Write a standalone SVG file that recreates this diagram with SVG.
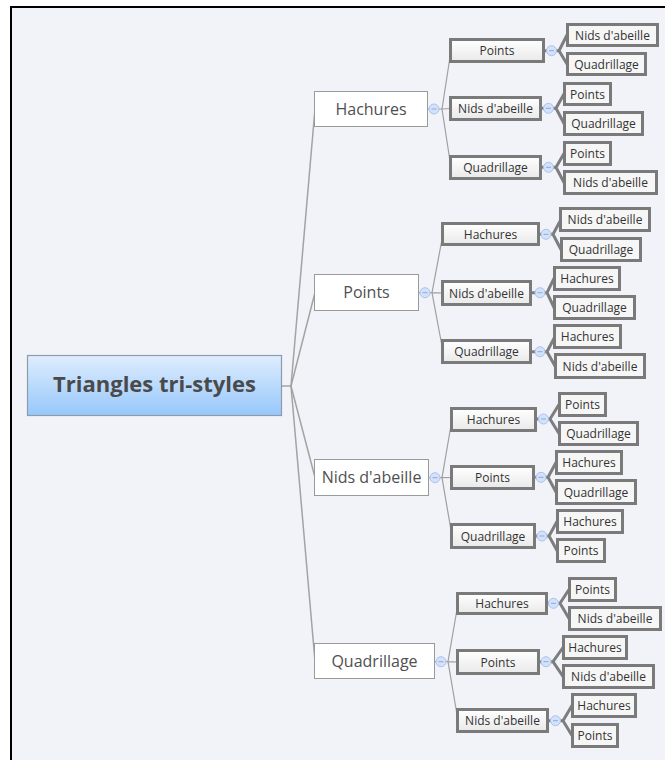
<svg xmlns="http://www.w3.org/2000/svg" width="665" height="760" viewBox="0 0 665 760">
<defs>
<linearGradient id="gRoot" x1="0" y1="0" x2="0" y2="1"><stop offset="0" stop-color="#deedfe"/><stop offset="1" stop-color="#97c7fb"/></linearGradient>
<linearGradient id="gBox" x1="0" y1="0" x2="0" y2="1"><stop offset="0" stop-color="#ffffff"/><stop offset="1" stop-color="#e9e9e9"/></linearGradient>
<g id="tog"><circle r="5" fill="#d3e2fa" stroke="#a9c3ee" stroke-width="1"/><line x1="-2.5" y1="0" x2="2.5" y2="0" stroke="#8fa9d8" stroke-width="1"/></g>
</defs>
<style>
.t{font-family:"Open Sans","Noto Sans","DejaVu Sans",sans-serif;text-anchor:middle}
.root rect{fill:url(#gRoot);stroke:#8d9cab;stroke-width:1.2}
.root text{font-size:22px;font-weight:bold;fill:#4a4a4a}
.l1 rect{fill:#ffffff;stroke:#9a9a9a;stroke-width:1}
.l1 text{font-size:16px;fill:#505050}
.l2 rect,.l3 rect{fill:url(#gBox);stroke:#7a7a7a;stroke-width:3}
.l3 rect{fill:#f6f6f6}
.l2 text,.l3 text{font-size:12px;fill:#333333}
.c1{stroke:#a3a3a3;stroke-width:1.5;fill:none}
.c2{stroke:#a0a0a0;stroke-width:1.2;fill:none}
.c3{stroke:#7d7d7d;stroke-width:3;fill:none;stroke-linecap:round}
</style>
<rect x="0" y="0" width="665" height="760" fill="#ffffff"/>
<rect x="10" y="6" width="700" height="800" fill="#000000"/>
<rect x="12" y="8" width="700" height="800" fill="#f2f3f9"/>

<g id="connectors">
<!-- root to L1 -->
<line class="c1" x1="282" y1="386" x2="291" y2="386" stroke-width="2.5"/>
<line class="c1" x1="291" y1="386" x2="315" y2="109"/>
<line class="c1" x1="291" y1="386" x2="315" y2="292.5"/>
<line class="c1" x1="291" y1="386" x2="315" y2="477.5"/>
<line class="c1" x1="291" y1="386" x2="315" y2="661"/>
<!-- L1 to L2 -->
<path class="c2" d="M428 109H442M442 109L451 50.5M442 109L451 108.5M442 109L451 167.5"/>
<path class="c2" d="M419 292.7H432M432 292.7L443 234M432 292.7L443 293M432 292.7L443 351.5"/>
<path class="c2" d="M429 477.7H442M442 477.7L452 419.5M442 477.7L452 477.5M442 477.7L452 536"/>
<path class="c2" d="M435 661.7H448M448 661.7L458 603.5M448 661.7L458 662M448 661.7L458 720.5"/>
<!-- L2 to L3 -->
<path class="c3" d="M545 50.7H559M559 50.7L567 35M559 50.7L567 64"/>
<path class="c3" d="M542 108.3H556M556 108.3L564 94M556 108.3L564 123.5"/>
<path class="c3" d="M542 167.3H556M556 167.3L564 153.5M556 167.3L564 182.5"/>
<path class="c3" d="M540 234.3H553M553 234.3L561 219.5M553 234.3L561 249.5"/>
<path class="c3" d="M532 292.7H547M547 292.7L554 278.5M547 292.7L554 307.5"/>
<path class="c3" d="M532 351.7H547M547 351.7L555 336.5M547 351.7L555 366"/>
<path class="c3" d="M537 419H550M550 419L559 404.5M550 419L559 433.5"/>
<path class="c3" d="M535 477.3H548M548 477.3L556 462.5M548 477.3L556 492"/>
<path class="c3" d="M536 536H549M549 536L557 521.5M549 536L557 550.5"/>
<path class="c3" d="M548 603.3H560M560 603.3L569 589.5M560 603.3L569 618.5"/>
<path class="c3" d="M540 661.7H553M553 661.7L563 647.5M553 661.7L563 676.5"/>
<path class="c3" d="M549 720.7H563M563 720.7L572 705.5M563 720.7L572 735.5"/>
<!-- toggles -->
<use href="#tog" x="434" y="109"/>
<use href="#tog" x="425" y="292.7"/>
<use href="#tog" x="435" y="477.7"/>
<use href="#tog" x="441" y="661.7"/>
<use href="#tog" x="551.5" y="50.7"/>
<use href="#tog" x="548.5" y="108.3"/>
<use href="#tog" x="548.5" y="167.3"/>
<use href="#tog" x="546" y="234.3"/>
<use href="#tog" x="540" y="292.7"/>
<use href="#tog" x="540" y="351.7"/>
<use href="#tog" x="543.5" y="419"/>
<use href="#tog" x="541" y="477.3"/>
<use href="#tog" x="542" y="536"/>
<use href="#tog" x="553.5" y="603.3"/>
<use href="#tog" x="546" y="661.7"/>
<use href="#tog" x="555.5" y="720.7"/>
</g>

<g id="root" class="root"><rect x="27.5" y="355.5" width="254" height="60"/><text class="t" x="154.5" y="392">Triangles tri-styles</text></g>

<g id="n-hachures" class="l1"><rect x="314.5" y="91.5" width="113" height="35"/><text class="t" x="371" y="114.5">Hachures</text></g>
<g id="n-points" class="l1"><rect x="314.5" y="274.5" width="104" height="36"/><text class="t" x="366.5" y="298">Points</text></g>
<g id="n-nids" class="l1"><rect x="314.5" y="459.5" width="114" height="36"/><text class="t" x="371.5" y="483">Nids d'abeille</text></g>
<g id="n-quadrillage" class="l1"><rect x="314.5" y="643.5" width="120" height="35"/><text class="t" x="374.5" y="666.5">Quadrillage</text></g>

<g id="n-h-points" class="l2"><rect x="450.5" y="39.5" width="93" height="22"/><text class="t" x="497" y="55">Points</text></g>
<g id="n-h-nids" class="l2"><rect x="450.5" y="97.5" width="90" height="22"/><text class="t" x="495.5" y="113">Nids d'abeille</text></g>
<g id="n-h-quad" class="l2"><rect x="450.5" y="156.5" width="90" height="22"/><text class="t" x="495.5" y="172">Quadrillage</text></g>

<g id="n-p-hach" class="l2"><rect x="442.5" y="223.5" width="96" height="21"/><text class="t" x="490.5" y="238.5">Hachures</text></g>
<g id="n-p-nids" class="l2"><rect x="442.5" y="281.5" width="88" height="23"/><text class="t" x="486.5" y="297.5">Nids d'abeille</text></g>
<g id="n-p-quad" class="l2"><rect x="442.5" y="340.5" width="88" height="22"/><text class="t" x="486.5" y="356">Quadrillage</text></g>

<g id="n-n-hach" class="l2"><rect x="451.5" y="408.5" width="84" height="22"/><text class="t" x="493.5" y="424">Hachures</text></g>
<g id="n-n-points" class="l2"><rect x="451.5" y="466.5" width="82" height="22"/><text class="t" x="492.5" y="482">Points</text></g>
<g id="n-n-quad" class="l2"><rect x="451.5" y="524.5" width="83" height="23"/><text class="t" x="493" y="540.5">Quadrillage</text></g>

<g id="n-q-hach" class="l2"><rect x="457.5" y="593.5" width="89" height="20"/><text class="t" x="502" y="608">Hachures</text></g>
<g id="n-q-points" class="l2"><rect x="457.5" y="650.5" width="81" height="23"/><text class="t" x="498" y="666.5">Points</text></g>
<g id="n-q-nids" class="l2"><rect x="457.5" y="709.5" width="90" height="22"/><text class="t" x="502.5" y="725">Nids d'abeille</text></g>

<g id="n-hp-nids" class="l3"><rect x="567.5" y="24.5" width="90" height="21"/><text class="t" x="612.5" y="39.5">Nids d'abeille</text></g>
<g id="n-hp-quad" class="l3"><rect x="567.5" y="53.5" width="78" height="21"/><text class="t" x="606.5" y="68.5">Quadrillage</text></g>
<g id="n-hn-points" class="l3"><rect x="564.5" y="83.5" width="46" height="21"/><text class="t" x="587.5" y="98.5">Points</text></g>
<g id="n-hn-quad" class="l3"><rect x="564.5" y="112.5" width="78" height="22"/><text class="t" x="603.5" y="128">Quadrillage</text></g>
<g id="n-hq-points" class="l3"><rect x="564.5" y="142.5" width="46" height="22"/><text class="t" x="587.5" y="158">Points</text></g>
<g id="n-hq-nids" class="l3"><rect x="564.5" y="171.5" width="92" height="22"/><text class="t" x="610.5" y="187">Nids d'abeille</text></g>

<g id="n-ph-nids" class="l3"><rect x="560.5" y="208.5" width="89" height="22"/><text class="t" x="605" y="224">Nids d'abeille</text></g>
<g id="n-ph-quad" class="l3"><rect x="561.5" y="238.5" width="79" height="22"/><text class="t" x="601" y="254">Quadrillage</text></g>
<g id="n-pn-hach" class="l3"><rect x="554.5" y="267.5" width="65" height="22"/><text class="t" x="587" y="283">Hachures</text></g>
<g id="n-pn-quad" class="l3"><rect x="554.5" y="296.5" width="80" height="22"/><text class="t" x="594.5" y="312">Quadrillage</text></g>
<g id="n-pq-hach" class="l3"><rect x="554.5" y="325.5" width="66" height="22"/><text class="t" x="587.5" y="341">Hachures</text></g>
<g id="n-pq-nids" class="l3"><rect x="555.5" y="354.5" width="89" height="23"/><text class="t" x="600" y="370.5">Nids d'abeille</text></g>

<g id="n-nh-points" class="l3"><rect x="559.5" y="393.5" width="46" height="22"/><text class="t" x="582.5" y="409">Points</text></g>
<g id="n-nh-quad" class="l3"><rect x="559.5" y="422.5" width="78" height="22"/><text class="t" x="598.5" y="438">Quadrillage</text></g>
<g id="n-np-hach" class="l3"><rect x="556.5" y="451.5" width="65" height="22"/><text class="t" x="589" y="467">Hachures</text></g>
<g id="n-np-quad" class="l3"><rect x="556.5" y="480.5" width="79" height="23"/><text class="t" x="596" y="496.5">Quadrillage</text></g>
<g id="n-nq-hach" class="l3"><rect x="557.5" y="510.5" width="65" height="22"/><text class="t" x="590" y="526">Hachures</text></g>
<g id="n-nq-points" class="l3"><rect x="557.5" y="539.5" width="47" height="22"/><text class="t" x="581" y="555">Points</text></g>

<g id="n-qh-points" class="l3"><rect x="569.5" y="578.5" width="46" height="22"/><text class="t" x="592.5" y="594">Points</text></g>
<g id="n-qh-nids" class="l3"><rect x="569.5" y="607.5" width="91" height="22"/><text class="t" x="615" y="623">Nids d'abeille</text></g>
<g id="n-qp-hach" class="l3"><rect x="563.5" y="636.5" width="63" height="22"/><text class="t" x="595" y="652">Hachures</text></g>
<g id="n-qp-nids" class="l3"><rect x="563.5" y="665.5" width="90" height="22"/><text class="t" x="608.5" y="681">Nids d'abeille</text></g>
<g id="n-qn-hach" class="l3"><rect x="572.5" y="694.5" width="63" height="22"/><text class="t" x="604" y="710">Hachures</text></g>
<g id="n-qn-points" class="l3"><rect x="572.5" y="724.5" width="45" height="22"/><text class="t" x="595" y="740">Points</text></g>
</svg>
